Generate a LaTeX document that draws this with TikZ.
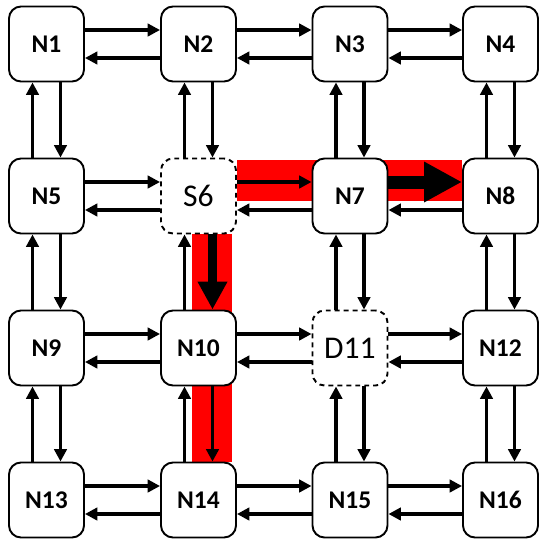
\documentclass[tikz,border=0pt]{standalone}
\usepackage{fontspec}
\setmainfont{Carlito}
\usetikzlibrary{arrows.meta,backgrounds}

\tikzset{
  router/.style={draw, fill=white, rounded corners=0.24cm, minimum size=1.5cm,
    inner sep=0pt, line width=1.1pt, font=\fontsize{14.5}{16}\selectfont\bfseries},
  endpoint/.style={router, dash pattern=on 2.8pt off 2.3pt,
    font=\fontsize{18}{20}\selectfont},
  link/.style={line width=2.1pt, -{Triangle[length=0.25cm,width=0.25cm]}},
  route/.style={red},
}

\begin{document}
\begin{tikzpicture}
\useasboundingbox (0,0) rectangle (10.76,-10.82);

% Row 1
\node[router] (N1) at (0.93,-0.88) {N1};
\node[router] (N2) at (3.97,-0.88) {N2};
\node[router] (N3) at (7.00,-0.88) {N3};
\node[router] (N4) at (10.01,-0.88) {N4};

% Row 2
\node[router]   (N5) at (0.93,-3.92) {N5};
\node[endpoint] (S6) at (3.97,-3.92) {S6};
\node[router]   (N7) at (7.00,-3.92) {N7};
\node[router]   (N8) at (10.01,-3.92) {N8};

% Row 3
\node[router]   (N9)  at (0.93,-6.96) {N9};
\node[router]   (N10) at (3.97,-6.96) {N10};
\node[endpoint] (D11) at (7.00,-6.96) {D11};
\node[router]   (N12) at (10.01,-6.96) {N12};

% Row 4
\node[router] (N13) at (0.93,-10.0) {N13};
\node[router] (N14) at (3.97,-10.0) {N14};
\node[router] (N15) at (7.00,-10.0) {N15};
\node[router] (N16) at (10.01,-10.0) {N16};

% Highlighted route S6 -> N8 and S6 -> N14
\begin{pgfonlayer}{background}
\fill[route] ([yshift=7.2mm]S6.east) rectangle ([yshift=-1mm]N8.west);
\fill[route] ([xshift=-1.3mm]S6.south) rectangle ([xshift=6.7mm]N14.north);
\end{pgfonlayer}

% Horizontal links: upper goes right, lower goes left
\foreach \a/\b in {N1/N2, N2/N3, N3/N4, N5/S6, S6/N7,
                   N9/N10, N10/D11, D11/N12, N13/N14, N14/N15, N15/N16}
  \draw[link] ([yshift=2.8mm]\a.east) -- ([yshift=2.8mm]\b.west);
\foreach \a/\b in {N1/N2, N2/N3, N3/N4, N5/S6, S6/N7, N7/N8,
                   N9/N10, N10/D11, D11/N12, N13/N14, N14/N15, N15/N16}
  \draw[link] ([yshift=-2.8mm]\b.west) -- ([yshift=-2.8mm]\a.east);

% Vertical links: left goes up, right goes down
\foreach \a/\b in {N1/N5, N2/S6, N3/N7, N4/N8, N5/N9, S6/N10,
                   N7/D11, N8/N12, N9/N13, N10/N14, D11/N15, N12/N16}
  \draw[link] ([xshift=-2.8mm]\b.north) -- ([xshift=-2.8mm]\a.south);
\foreach \a/\b in {N1/N5, N2/S6, N3/N7, N4/N8, N5/N9,
                   N7/D11, N8/N12, N9/N13, N10/N14, D11/N15, N12/N16}
  \draw[link] ([xshift=2.8mm]\a.south) -- ([xshift=2.8mm]\b.north);

% Flow along the route
\draw[line width=0.26cm, -{Triangle[length=0.76cm,width=0.76cm]}]
  ([yshift=2.8mm]N7.east) -- ([yshift=2.8mm]N8.west);
\draw[line width=0.17cm, -{Triangle[length=0.56cm,width=0.56cm]}]
  ([xshift=2.8mm]S6.south) -- ([xshift=2.8mm]N10.north);
\end{tikzpicture}
\end{document}
